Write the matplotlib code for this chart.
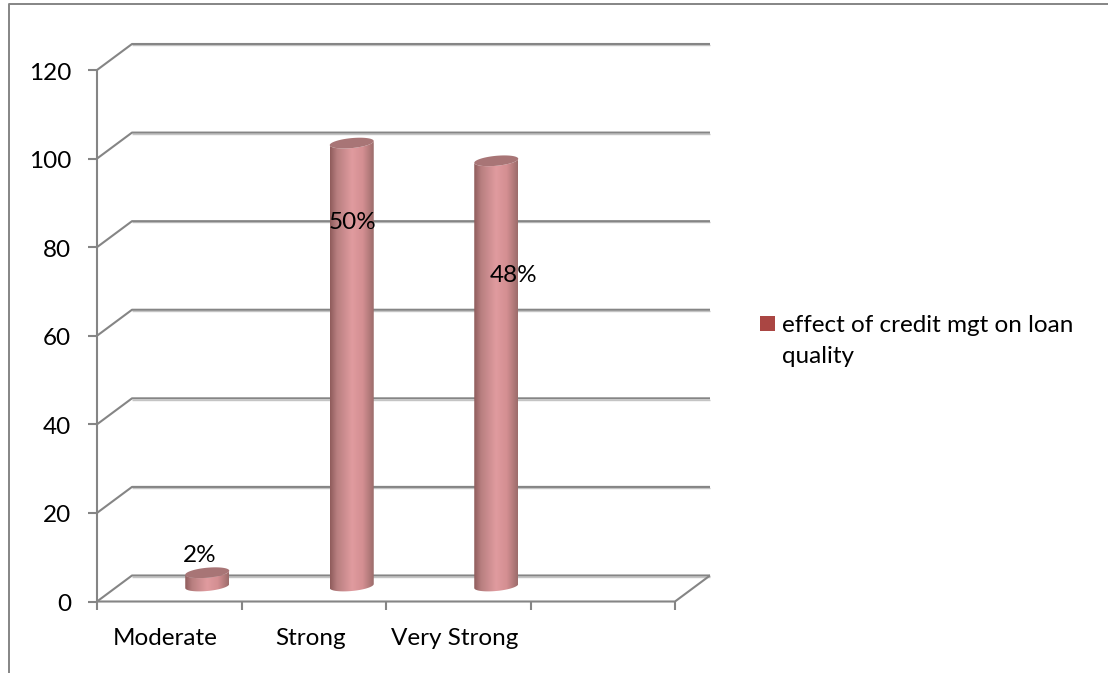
import numpy as np
import matplotlib
matplotlib.use("Agg")
import matplotlib.pyplot as plt
from matplotlib.colors import LinearSegmentedColormap
from matplotlib.patches import PathPatch, Rectangle, Polygon
from matplotlib.path import Path

# ── Data ──────────────────────────────────────────────────────────────
categories = ["Moderate", "Strong", "Very Strong"]
counts = [3, 100, 96]
y_ticks = [0, 20, 40, 60, 80, 100, 120]
series_name = "effect of credit mgt on loan\nquality"

# ── Layout (pixels) ───────────────────────────────────────────────────
W, H = 1108, 673
LEFT, RIGHT, BOTTOM, TOP = 97, 675, 601.5, 70
N_SLOTS = 4
DEPTH_X, DEPTH_Y = 35, 26
GRID = "#858585"
GRID_SOFT = "#c4c4c4"
FONT = "Lato"
FS = 17.5

fig = plt.figure(figsize=(W / 100, H / 100), dpi=100)
ax = fig.add_axes([LEFT / W, 1 - BOTTOM / H, (RIGHT - LEFT) / W, (BOTTOM - TOP) / H])
ax.set_xlim(0, N_SLOTS)
ax.set_ylim(0, 120)
ax.axis("off")

px_x = N_SLOTS / (RIGHT - LEFT)   # x data units per pixel
px_y = 120 / (BOTTOM - TOP)       # y data units per pixel
dx, dy = DEPTH_X * px_x, DEPTH_Y * px_y


def line(xs, ys, color=GRID, lw=1.5, zorder=2):
    ax.plot(xs, ys, color=color, lw=lw, clip_on=False, solid_capstyle="butt", zorder=zorder)


# ── Walls and axes ────────────────────────────────────────────────────
for v in y_ticks:
    # faint shadow under each gridline
    line([dx, N_SLOTS + dx], [v + dy - 1.2 * px_y] * 2, color=GRID_SOFT, lw=1.0, zorder=1)
    line([0, dx, N_SLOTS + dx], [v, v + dy, v + dy])
    line([-9 * px_x, 0], [v, v])
    ax.text(-26 * px_x, v - 3 * px_y, str(v), ha="right", va="center", family=FONT, fontsize=FS, color="black")
line([0, 0], [0, 120])
line([0, N_SLOTS, N_SLOTS + dx], [0, 0, dy])
for i in range(N_SLOTS + 1):
    line([i, i], [0, -8 * px_y])
for i, name in enumerate(categories):
    ax.text(i + 0.475, -37 * px_y, name, ha="center", va="center", family=FONT, fontsize=FS, color="black")

# ── Cylinders ─────────────────────────────────────────────────────────
shade = LinearSegmentedColormap.from_list(
    "cyl", [(0, "#8f5c5c"), (0.16, "#b87f80"), (0.5, "#e09b9f"), (0.75, "#d48f92"), (1, "#9c6c6b")]
)
RADIUS_X, RADIUS_Y, TILT = 22, 5, 2
BAR_DX, BAR_BASE = 38, 15.5
t = np.linspace(0, 2 * np.pi, 60)
gradient = np.linspace(0, 1, 128).reshape(1, -1)

for i, v in enumerate(counts):
    cx = i + 0.5 + BAR_DX * px_x
    base = BAR_BASE * px_y
    top = base + v
    ex = RADIUS_X * np.cos(t) * px_x
    ey = (RADIUS_Y * np.sin(t) + TILT * np.cos(t)) * px_y

    # side wall: lower half of the base ellipse closed over the top rim
    lower = np.linspace(np.pi, 2 * np.pi, 40)
    lx = cx + RADIUS_X * np.cos(lower) * px_x
    ly = base + (RADIUS_Y * np.sin(lower) + TILT * np.cos(lower)) * px_y
    ux = cx + RADIUS_X * np.cos(lower[::-1]) * px_x
    uy = top + (RADIUS_Y * np.sin(lower[::-1]) + TILT * np.cos(lower[::-1])) * px_y
    verts = np.column_stack([np.r_[lx, ux], np.r_[ly, uy]])
    body = PathPatch(Path(np.vstack([verts, verts[0]]), closed=True), transform=ax.transData, fc="none", ec="none")
    ax.add_patch(body)
    img = ax.imshow(
        gradient, cmap=shade, aspect="auto", zorder=3,
        extent=(cx - RADIUS_X * px_x, cx + RADIUS_X * px_x, base - 10 * px_y, top + 10 * px_y),
    )
    img.set_clip_path(body)
    ax.add_patch(Polygon(np.column_stack([cx + ex, top + ey]), closed=True, fc="#a87576", ec="none", zorder=4, clip_on=False))

# imshow resets the limits
ax.set_xlim(0, N_SLOTS)
ax.set_ylim(0, 120)

# ── Value labels ──────────────────────────────────────────────────────
label_pos = [(0.713, 10.4), (1.765, 85.6), (2.886, 73.6)]
total = sum(counts)
for v, (lx, ly) in zip(counts, label_pos):
    ax.text(lx, ly, f"{100 * v / total:.0f}%", ha="center", va="center", family=FONT, fontsize=FS, color="black", zorder=5)

# ── Legend and frame ──────────────────────────────────────────────────
fig.add_artist(Rectangle((760 / W, 1 - 331 / H), 15 / W, 15 / H, transform=fig.transFigure, fc="#aa4643", ec="none"))
fig.text(782 / W, 1 - 341 / H, series_name, ha="left", va="center", family=FONT, fontsize=FS, color="black", linespacing=1.6)
fig.add_artist(plt.Line2D([9 / W, 9 / W, 1108 / W], [0, 1 - 4 / H, 1 - 4 / H], transform=fig.transFigure, color=GRID, lw=1.4))

fig.savefig("out.png", dpi=100)
